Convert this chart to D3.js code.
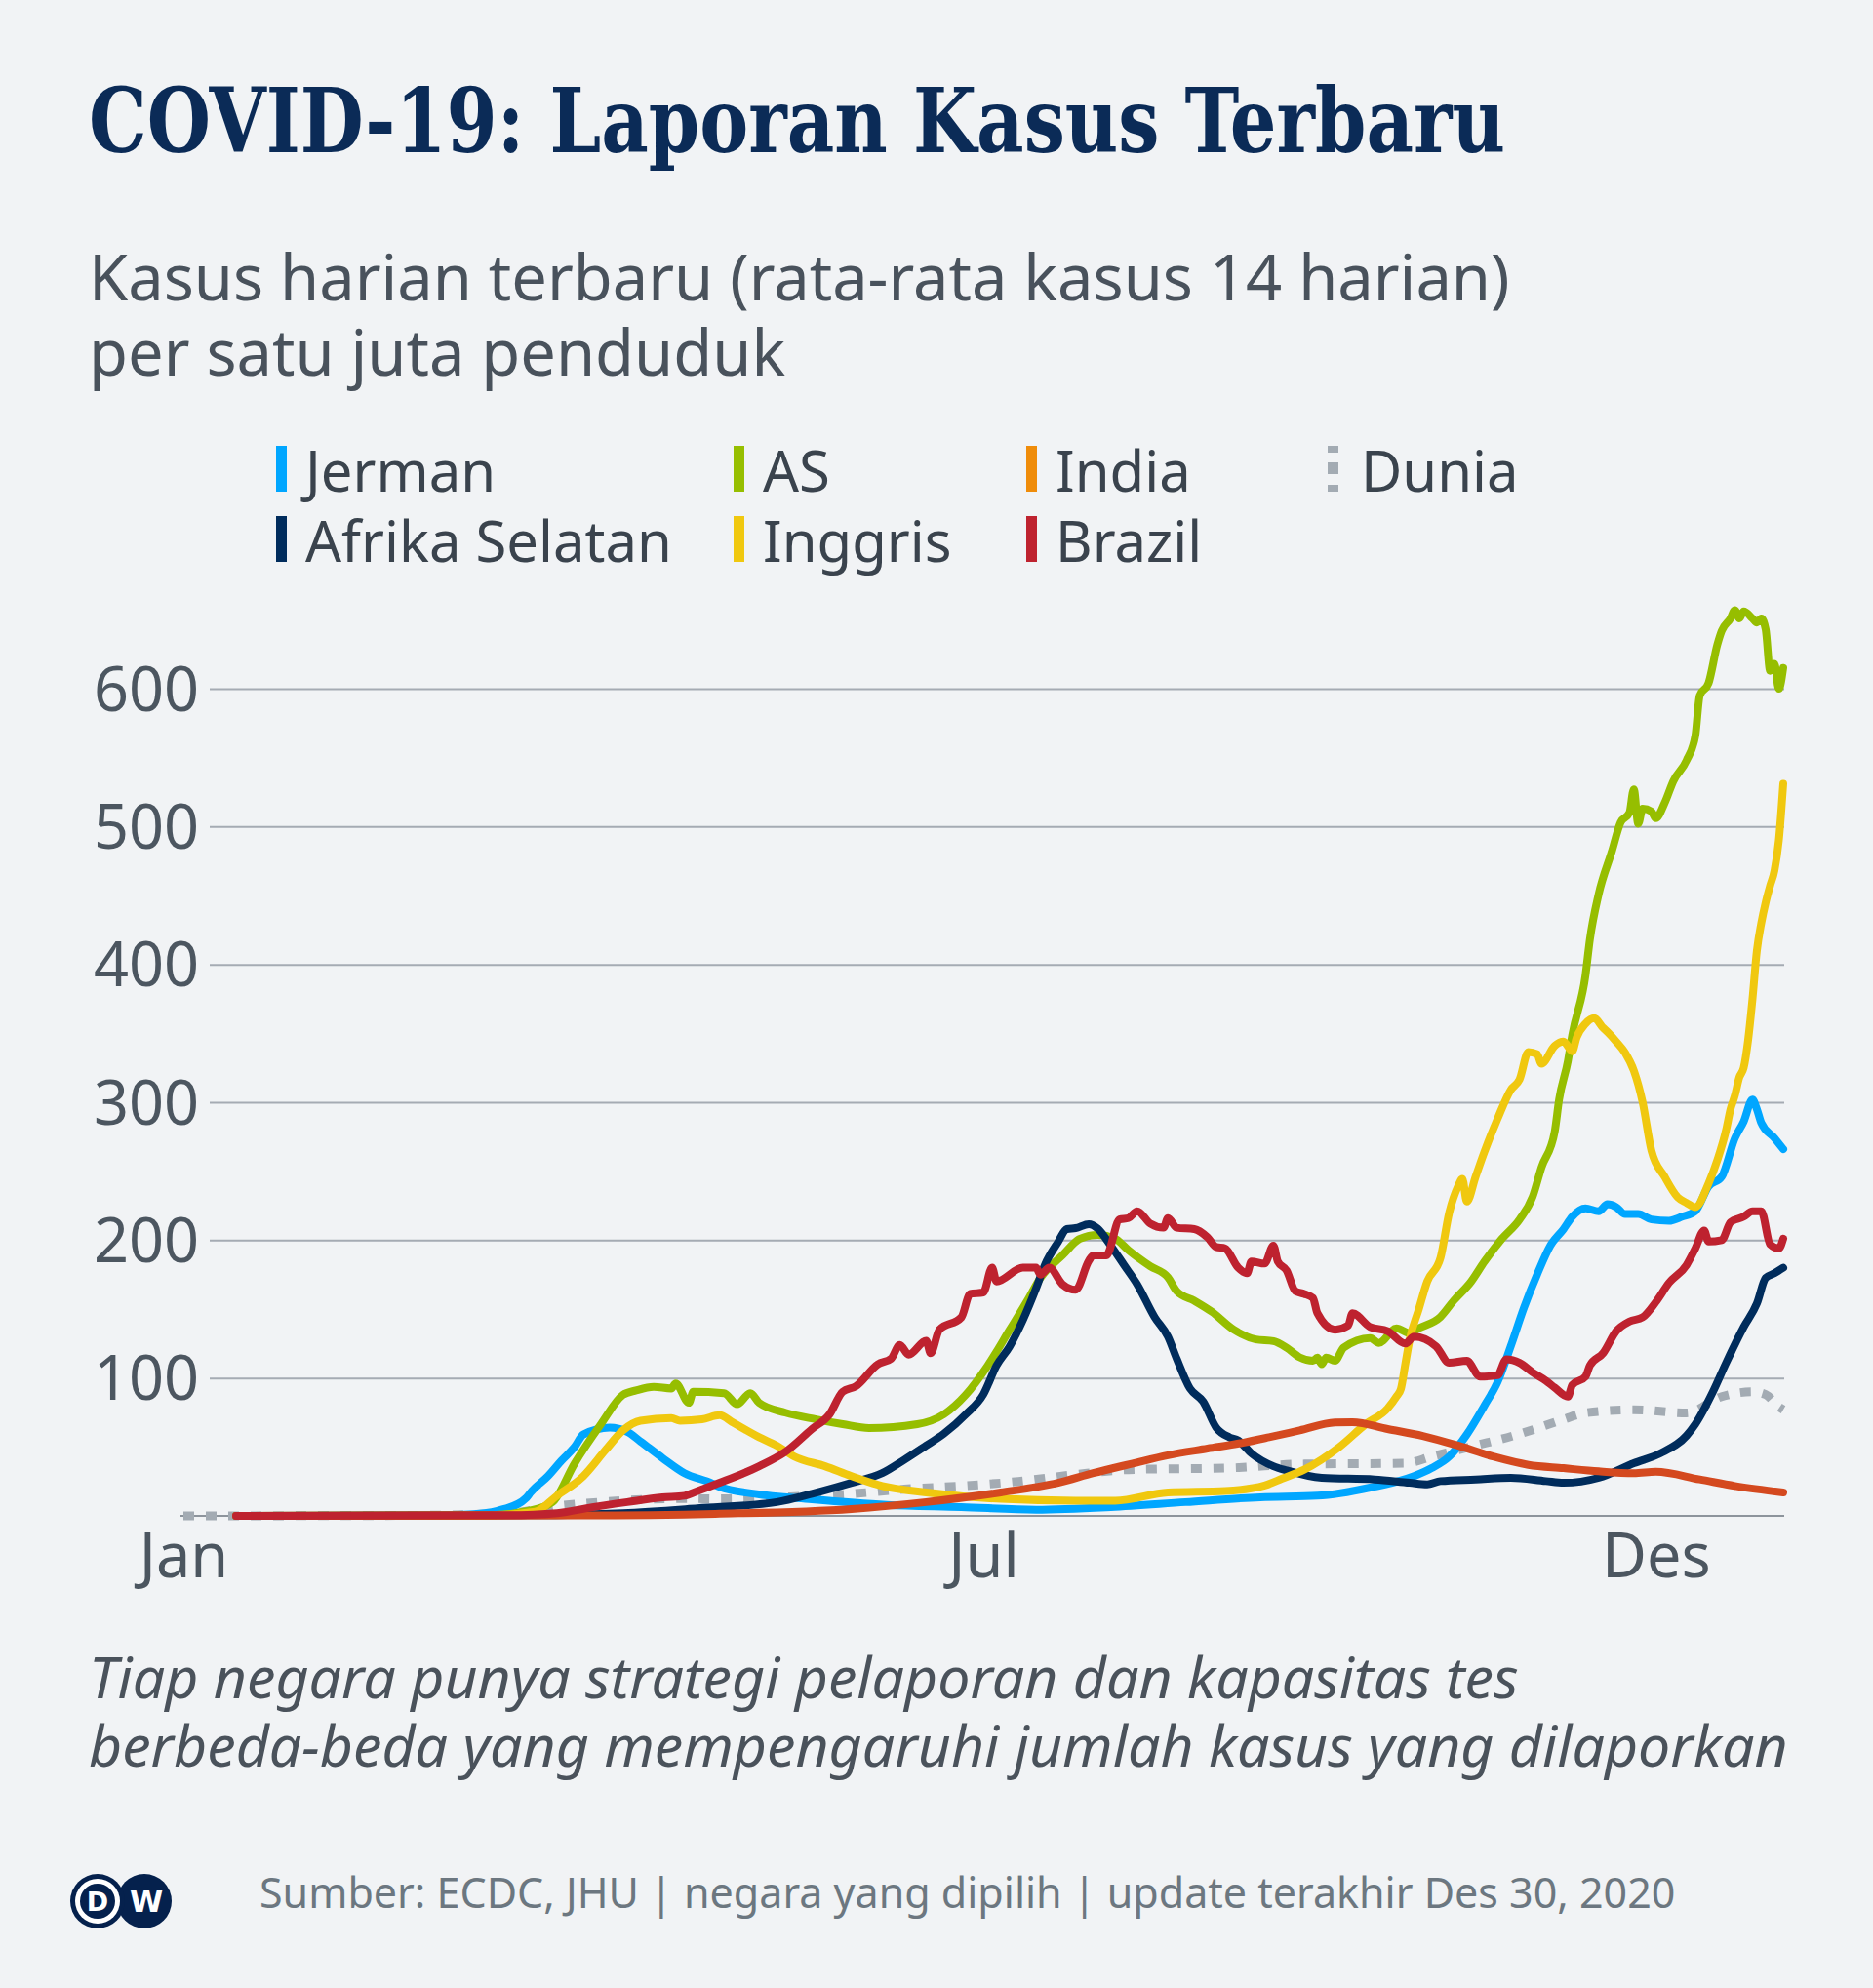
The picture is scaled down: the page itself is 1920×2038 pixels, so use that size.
<!DOCTYPE html>
<html lang="id">
<head>
<meta charset="UTF-8">
<title>COVID-19: Laporan Kasus Terbaru</title>
<script src="https://d3js.org/d3.v7.min.js"></script>
<style>
  html, body { margin: 0; padding: 0; background: #f1f3f5; }
  svg { display: block; }
  .sans { font-family: "Noto Sans", "Open Sans", sans-serif; }
  .tick text { font-family: "Noto Sans", sans-serif; fill: #4c5660; }
</style>
</head>
<body>
<svg id="chart" width="1920" height="2038"></svg>
<script>
// ---- data (14-day avg of daily cases per million) ----
const jerman = [
  ["01-13", 0], ["02-25", 0.3], ["03-06", 1], ["03-14", 5], ["03-19", 13], ["03-20", 17],
  ["03-24", 29], ["03-27", 40], ["03-30", 50], ["04-01", 59], ["04-07", 64], ["04-11", 61],
  ["04-14", 54], ["04-19", 42], ["04-24", 31], ["04-30", 24], ["05-02", 21], ["05-10", 16],
  ["05-23", 12], ["06-09", 8], ["06-26", 6.4], ["07-13", 4.5], ["07-30", 6.4], ["08-16", 10],
  ["09-02", 13.5], ["09-15", 14.6], ["09-27", 20.5], ["10-07", 28.8], ["10-11", 34.6],
  ["10-15", 43], ["10-19", 59], ["10-23", 80], ["10-26", 97], ["10-29", 123], ["11-01", 151],
  ["11-04", 175], ["11-07", 196], ["11-10", 208], ["11-12", 217], ["11-15", 223], ["11-18", 221],
  ["11-20", 226], ["11-22", 224], ["11-24", 219], ["11-27", 219], ["11-30", 215], ["12-04", 214],
  ["12-07", 217], ["12-10", 221], ["12-13", 239], ["12-16", 246], ["12-19", 274], ["12-21", 286],
  ["12-23", 302], ["12-24", 295], ["12-25", 285], ["12-28", 274], ["12-30", 266]
];
const afrikaSelatan = [
  ["01-13", 0], ["03-20", 0.5], ["04-10", 2], ["04-27", 5.5], ["05-15", 10], ["05-23", 16],
  ["06-01", 24], ["06-08", 31], ["06-13", 40.6], ["06-18", 51], ["06-22", 59.5], ["06-27", 73.6],
  ["07-01", 88], ["07-04", 109], ["07-07", 123], ["07-10", 142], ["07-13", 165], ["07-15", 182],
  ["07-18", 198.6], ["07-20", 208], ["07-22", 208.7], ["07-25", 211.6], ["07-27", 208.5],
  ["07-30", 196], ["08-02", 182], ["08-05", 168], ["08-09", 144], ["08-12", 130], ["08-14", 114],
  ["08-17", 92.5], ["08-20", 83], ["08-23", 64], ["08-26", 57], ["08-28", 54.7], ["08-31", 45.3],
  ["09-05", 36], ["09-08", 33], ["09-16", 27.6], ["09-28", 26.4], ["10-06", 24], ["10-10", 22.9],
  ["10-13", 25.2], ["10-21", 26.4], ["10-29", 27.6], ["11-06", 25.2], ["11-10", 24], ["11-18", 27.6],
  ["11-26", 38.2], ["12-02", 45.3], ["12-08", 58.2], ["12-10", 66.5], ["12-14", 90], ["12-17", 111],
  ["12-21", 137], ["12-24", 154], ["12-26", 172.6], ["12-28", 176], ["12-30", 180]
];
const as = [
  ["01-13", 0], ["03-10", 0.5], ["03-20", 4], ["03-25", 10], ["03-30", 38], ["04-05", 66.5],
  ["04-10", 87.7], ["04-13", 91], ["04-17", 93.6], ["04-21", 92.4], ["04-22", 96], ["04-25", 82],
  ["04-26", 90], ["05-03", 89], ["05-06", 81], ["05-09", 89], ["05-11", 82], ["05-17", 74.8],
  ["05-24", 70], ["05-30", 66.5], ["06-05", 63.7], ["06-16", 66.5], ["06-22", 73.6], ["06-27", 87.8],
  ["07-02", 109], ["07-07", 135], ["07-11", 156], ["07-14", 172.7], ["07-19", 189], ["07-23", 201],
  ["07-27", 203.8], ["07-31", 201], ["08-03", 192.7], ["08-08", 181], ["08-12", 173], ["08-14", 163],
  ["08-18", 156], ["08-22", 148], ["08-27", 135], ["09-01", 128], ["09-05", 126.7], ["09-08", 122],
  ["09-11", 115], ["09-14", 112.5], ["09-15", 114.8], ["09-16", 110], ["09-17", 114.8], ["09-19", 112.5],
  ["09-21", 122], ["09-27", 129], ["09-29", 125.4], ["10-03", 136], ["10-06", 132.5], ["10-08", 136],
  ["10-13", 144.3], ["10-16", 156], ["10-20", 170], ["10-23", 184.4], ["10-27", 201], ["10-31", 215],
  ["11-03", 231.6], ["11-05", 252.8], ["11-08", 278.7], ["11-09", 302], ["11-11", 330], ["11-12", 349],
  ["11-15", 392], ["11-16", 418], ["11-18", 451], ["11-21", 482], ["11-23", 503], ["11-25", 510],
  ["11-26", 527], ["11-27", 502], ["11-28", 513], ["11-30", 511], ["12-01", 506], ["12-03", 517],
  ["12-05", 533], ["12-08", 548], ["12-10", 566], ["12-11", 595], ["12-13", 604], ["12-15", 632],
  ["12-16", 642], ["12-18", 651], ["12-19", 657], ["12-20", 651], ["12-21", 656], ["12-23", 651],
  ["12-24", 648], ["12-25", 651], ["12-26", 643], ["12-27", 613], ["12-28", 618], ["12-29", 600],
  ["12-30", 615]
];
const inggris = [
  ["01-13", 0], ["03-10", 0.3], ["03-21", 3], ["03-26", 14.6], ["04-01", 28.8], ["04-06", 47.6],
  ["04-10", 62], ["04-14", 69], ["04-21", 71], ["04-23", 69], ["04-28", 70], ["05-02", 73],
  ["05-05", 67.7], ["05-11", 57], ["05-15", 51], ["05-19", 43], ["05-26", 36], ["06-01", 28.8],
  ["06-08", 21.7], ["06-18", 17], ["07-05", 12.3], ["07-22", 11], ["07-31", 11], ["08-12", 17],
  ["08-25", 18], ["09-03", 22], ["09-07", 27], ["09-12", 33.5], ["09-20", 50], ["09-26", 66.5],
  ["10-01", 78], ["10-03", 86.5], ["10-04", 92], ["10-05", 110], ["10-06", 128], ["10-08", 149],
  ["10-10", 170], ["10-13", 187], ["10-15", 220], ["10-17", 239], ["10-18", 244.5], ["10-19", 228],
  ["10-21", 246], ["10-23", 264], ["10-26", 288], ["10-29", 309], ["10-31", 316.5], ["11-02", 336.5],
  ["11-04", 335], ["11-05", 328], ["11-08", 341], ["11-10", 344], ["11-12", 337], ["11-13", 347],
  ["11-15", 357], ["11-17", 361], ["11-19", 354], ["11-20", 351], ["11-22", 344], ["11-24", 336],
  ["11-26", 323], ["11-28", 300], ["11-30", 265], ["12-03", 246], ["12-06", 231], ["12-08", 227],
  ["12-10", 224], ["12-13", 241], ["12-15", 258], ["12-17", 280], ["12-18", 295], ["12-19", 305],
  ["12-20", 318], ["12-21", 325], ["12-22", 345], ["12-23", 375], ["12-24", 410], ["12-25", 430],
  ["12-26", 445], ["12-27", 457], ["12-28", 468], ["12-29", 490], ["12-30", 531]
];
const india = [
  ["01-13", 0], ["03-31", 0.3], ["05-01", 1.5], ["06-01", 5], ["06-18", 10], ["07-05", 17],
  ["07-18", 24], ["07-26", 31], ["08-04", 38], ["08-12", 44], ["08-21", 48.8], ["08-29", 53],
  ["09-04", 57], ["09-11", 62], ["09-19", 67.7], ["09-23", 68], ["10-01", 63], ["10-09", 58],
  ["10-17", 51], ["10-25", 43], ["11-02", 37], ["11-10", 34.6], ["11-18", 32.3], ["11-26", 31],
  ["12-01", 32], ["12-11", 26.4], ["12-19", 21.7], ["12-30", 17]
];
const brazil = [
  ["01-13", 0], ["03-15", 0.5], ["03-26", 2], ["04-03", 6.3], ["04-11", 10], ["04-19", 13.4],
  ["04-24", 14.6], ["04-27", 18], ["05-02", 24], ["05-11", 36], ["05-17", 46.5], ["05-23", 63],
  ["05-27", 73.6], ["05-30", 90], ["06-02", 94], ["06-07", 110], ["06-10", 114], ["06-12", 124],
  ["06-14", 117], ["06-18", 127], ["06-19", 118], ["06-21", 135], ["06-26", 144], ["06-28", 161],
  ["07-01", 162], ["07-03", 180], ["07-04", 170], ["07-10", 180], ["07-13", 180], ["07-14", 175],
  ["07-16", 180], ["07-19", 168], ["07-22", 164], ["07-25", 185], ["07-26", 189], ["07-29", 189],
  ["08-01", 215], ["08-03", 216], ["08-05", 221], ["08-08", 212], ["08-11", 209], ["08-12", 216],
  ["08-14", 209], ["08-18", 208], ["08-21", 202], ["08-23", 195], ["08-25", 194], ["08-28", 180],
  ["08-30", 176], ["08-31", 184.5], ["09-03", 183], ["09-05", 196], ["09-06", 184.5], ["09-08", 178],
  ["09-10", 163], ["09-12", 161], ["09-14", 158], ["09-15", 147], ["09-19", 135], ["09-22", 138],
  ["09-23", 147], ["09-27", 137], ["10-01", 134], ["10-05", 125], ["10-07", 130], ["10-12", 123],
  ["10-15", 111], ["10-19", 112.5], ["10-22", 101], ["10-26", 102], ["10-28", 113.6], ["10-31", 111],
  ["11-03", 104], ["11-06", 98], ["11-08", 93], ["11-11", 86.5], ["11-12", 95], ["11-15", 101],
  ["11-16", 109], ["11-19", 118], ["11-22", 134], ["11-25", 141], ["11-28", 144], ["12-01", 155],
  ["12-04", 169], ["12-08", 182], ["12-10", 194], ["12-12", 207], ["12-13", 199], ["12-16", 200],
  ["12-18", 213], ["12-21", 217], ["12-23", 221], ["12-25", 221], ["12-27", 197], ["12-29", 194],
  ["12-30", 201]
];
const dunia = [
  ["01-01", 0], ["02-20", 0.3], ["03-15", 2], ["03-27", 7.5], ["04-05", 10], ["04-15", 12],
  ["04-25", 12.6], ["05-02", 12.3], ["05-15", 13.5], ["06-01", 16], ["06-13", 19.4], ["06-26", 21.7],
  ["07-09", 25], ["07-22", 30], ["08-03", 33.5], ["08-28", 35], ["09-10", 37.5], ["10-05", 38.2],
  ["10-11", 43], ["10-21", 51], ["10-31", 59.4], ["11-10", 70], ["11-15", 74.7], ["11-26", 77],
  ["12-08", 74.7], ["12-16", 86.5], ["12-23", 90], ["12-26", 88], ["12-29", 79], ["12-30", 77]
];

const seriesNames = ["Jerman", "Afrika Selatan", "AS", "Inggris", "India", "Brazil", "Dunia"];
const yTicks = [100, 200, 300, 400, 500, 600];
const xTickDates = ["01-01", "07-01", "12-01"];
const xTickLabels = ["Jan", "Jul", "Des"];

// ---- setup ----
const svg = d3.select("#chart");
const parse = s => d3.timeParse("%Y-%m-%d")("2020-" + s);

const x = d3.scaleTime()
  .domain([parse("01-01"), parse("12-30")])
  .range([188, 1828]);
const y = d3.scaleLinear()
  .domain([0, 600])
  .range([1554, 706]);

const styles = {
  "Jerman":         { color: "#00a6ff", legend: "#00a6ff" },
  "Afrika Selatan": { color: "#002c5c", legend: "#002c5c" },
  "AS":             { color: "#96be00", legend: "#96be00" },
  "Inggris":        { color: "#f0c80f", legend: "#f0c80f" },
  "India":          { color: "#d4491f", legend: "#ef8c0a" },
  "Brazil":         { color: "#be222f", legend: "#be222f" },
  "Dunia":          { color: "#a3abb3", legend: "#a3abb3", dash: "11,12" }
};
const dataByName = {
  "Jerman": jerman, "Afrika Selatan": afrikaSelatan, "AS": as, "Inggris": inggris,
  "India": india, "Brazil": brazil, "Dunia": dunia
};

svg.append("rect").attr("width", 1920).attr("height", 2038).attr("fill", "#f1f3f5");

// title
const title = svg.append("text")
  .attr("x", 91).attr("y", 156)
  .style("font-family", "'DejaVu Serif', 'Liberation Serif', serif")
  .style("font-stretch", "condensed")
  .style("font-weight", "bold")
  .style("font-size", "92px")
  .attr("fill", "#0b2b57")
  .text("COVID-19: Laporan Kasus Terbaru");
if (title.node().getComputedTextLength() > 1452) {
  title.attr("textLength", 1452).attr("lengthAdjust", "spacingAndGlyphs");
}

// subtitle
const sub = svg.append("text").attr("class", "sans")
  .attr("fill", "#49525c").style("font-size", "65px");
sub.append("tspan").attr("x", 91).attr("y", 308)
  .text("Kasus harian terbaru (rata-rata kasus 14 harian)");
sub.append("tspan").attr("x", 91).attr("y", 385)
  .text("per satu juta penduduk");

// legend
const legendPos = {
  "Jerman": [283, 504], "AS": [752, 504], "India": [1052, 504], "Dunia": [1361, 504],
  "Afrika Selatan": [283, 576], "Inggris": [752, 576], "Brazil": [1052, 576]
};
seriesNames.forEach(name => {
  const [lx, ly] = legendPos[name];
  const g = svg.append("g").attr("transform", `translate(${lx},${ly})`);
  if (name === "Dunia") {
    [[-47, 7], [-30, 12], [-7, 7]].forEach(([o, h]) => {
      g.append("rect").attr("x", 0).attr("y", o).attr("width", 11).attr("height", h)
        .attr("fill", styles[name].legend);
    });
  } else {
    g.append("rect").attr("x", 0).attr("y", -47).attr("width", 11).attr("height", 47)
      .attr("fill", styles[name].legend);
  }
  g.append("text").attr("class", "sans")
    .attr("x", name === "Dunia" ? 34 : 30).attr("y", 0)
    .attr("fill", "#3a434d").style("font-size", "58px")
    .text(name);
});

// grid + y axis
const yAxis = svg.append("g")
  .attr("transform", "translate(215,0)")
  .call(d3.axisLeft(y).tickValues(yTicks).tickSize(-(1829 - 215)).tickPadding(11));
yAxis.select(".domain").remove();
yAxis.selectAll(".tick line").attr("stroke", "#a5abb3").attr("stroke-width", 2);
yAxis.selectAll(".tick text").style("font-size", "63px").attr("dy", "0.35em");

svg.append("line")
  .attr("x1", 185).attr("x2", 1829)
  .attr("y1", y(0)).attr("y2", y(0))
  .attr("stroke", "#8d949c").attr("stroke-width", 2);

// x axis
const xAxis = svg.append("g")
  .attr("transform", `translate(0,${y(0)})`)
  .call(d3.axisBottom(x)
    .tickValues(xTickDates.map(parse))
    .tickFormat((d, i) => xTickLabels[i])
    .tickSize(0));
xAxis.select(".domain").remove();
xAxis.selectAll(".tick text").style("font-size", "63px").attr("y", 63).attr("dy", 0);

// lines
const line = d3.line()
  .x(d => x(parse(d[0])))
  .y(d => y(d[1]))
  .curve(d3.curveMonotoneX);

const drawOrder = ["Dunia", "Jerman", "AS", "Afrika Selatan", "Inggris", "India", "Brazil"];
drawOrder.forEach(name => {
  const s = styles[name];
  svg.append("path")
    .datum(dataByName[name])
    .attr("d", line)
    .attr("fill", "none")
    .attr("stroke", s.color)
    .attr("stroke-width", s.dash ? 9 : 8)
    .attr("stroke-linejoin", "round")
    .attr("stroke-linecap", s.dash ? "butt" : "round")
    .attr("stroke-dasharray", s.dash || null);
});

// footnote
const note = svg.append("text").attr("class", "sans")
  .attr("fill", "#4a525b").style("font-size", "59px").style("font-style", "italic");
note.append("tspan").attr("x", 91).attr("y", 1741)
  .text("Tiap negara punya strategi pelaporan dan kapasitas tes");
note.append("tspan").attr("x", 91).attr("y", 1811)
  .text("berbeda-beda yang mempengaruhi jumlah kasus yang dilaporkan");

// DW logo
const logo = svg.append("g").attr("transform", "translate(0,1949)");
logo.append("circle").attr("cx", 148).attr("cy", 0).attr("r", 28).attr("fill", "#05214d");
logo.append("text").attr("x", 150).attr("y", 11).attr("text-anchor", "middle")
  .style("font-family", "'DejaVu Sans', sans-serif").style("font-weight", "bold")
  .style("font-size", "31px").attr("fill", "#fff").text("W");
logo.append("circle").attr("cx", 100).attr("cy", 0).attr("r", 28).attr("fill", "#05214d");
logo.append("circle").attr("cx", 100).attr("cy", 0).attr("r", 23).attr("fill", "#fff");
logo.append("circle").attr("cx", 100).attr("cy", 0).attr("r", 18).attr("fill", "#05214d");
logo.append("text").attr("x", 100).attr("y", 10).attr("text-anchor", "middle")
  .style("font-family", "'DejaVu Sans', sans-serif").style("font-weight", "bold")
  .style("font-size", "27px").attr("fill", "#fff").text("D");

// source
svg.append("text").attr("class", "sans")
  .attr("x", 266).attr("y", 1956)
  .attr("fill", "#6c7780").style("font-size", "43px")
  .text("Sumber: ECDC, JHU | negara yang dipilih | update terakhir Des 30, 2020");
</script>
</body>
</html>
